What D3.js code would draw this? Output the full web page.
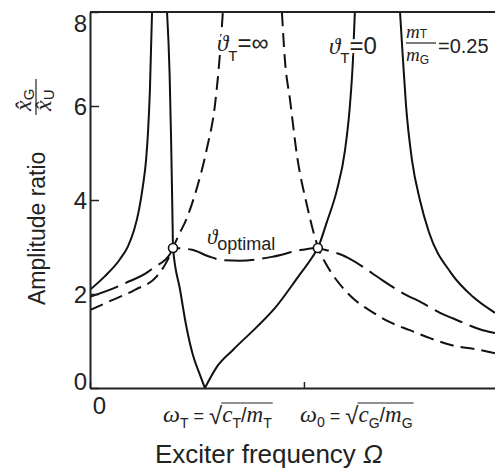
<!DOCTYPE html>
<html>
<head>
<meta charset="utf-8">
<script src="https://cdn.jsdelivr.net/npm/d3@7"></script>
<style>
  body { margin: 0; background: #fff; }
  svg { display: block; }
  text { font-family: "Liberation Sans", Arial, sans-serif; fill: #222; white-space: pre; }
  .it { font-family: "Liberation Serif", "Times New Roman", serif; font-style: italic; }
  .its { font-style: italic; }
  .halo { stroke: #fff; stroke-width: 6px; paint-order: stroke; stroke-linejoin: round; }
</style>
</head>
<body>
<svg id="chart" width="495" height="473"></svg>
<script>
// frequency is given in units of omega_0, amplitude ratio as plotted
var freqMax = 1.893;
var ampTicks = [0, 2, 4, 6, 8];
var freqTicks = [0, 1.0];
var omegaT = 0.537;
var omega0 = 1.0;

// theta_T = 0 (undamped absorber), four branches
var undampedLow = [[0, 2.09], [0.070, 2.38], [0.140, 2.74], [0.178, 3.02], [0.206, 3.36],
  [0.229, 3.79], [0.248, 4.32], [0.262, 4.85], [0.271, 5.43], [0.280, 6.34], [0.290, 8.0]];
var undampedMid = [[0.360, 8.0], [0.372, 6.7], [0.379, 5.3], [0.383, 4.3], [0.386, 3.5],
  [0.388, 2.98], [0.421, 2.09], [0.449, 1.34], [0.481, 0.70], [0.514, 0.28], [omegaT, 0]];
var undampedUp = [[omegaT, 0], [0.593, 0.45], [0.668, 0.81], [0.780, 1.30], [0.864, 1.70],
  [0.972, 2.36], [1.037, 2.77], [1.065, 2.98], [1.107, 3.53], [1.154, 4.21], [1.192, 5.06],
  [1.215, 6.02], [1.229, 6.98], [1.238, 8.0]];
var undampedHigh = [[1.449, 8.0], [1.463, 6.98], [1.477, 6.02], [1.505, 4.85], [1.542, 4.0],
  [1.584, 3.32], [1.687, 2.45], [1.790, 1.94], [1.893, 1.60]];

// theta_T = infinity (absorber locked to the main mass)
var lockedLow = [[0, 1.66], [0.084, 1.83], [0.210, 2.09], [0.313, 2.38], [0.360, 2.70],
  [0.388, 2.98], [0.407, 3.18], [0.453, 3.62], [0.500, 4.26], [0.547, 5.11], [0.584, 6.02],
  [0.607, 7.09], [0.621, 8.0]];
var lockedHigh = [[0.897, 8.0], [0.911, 6.98], [0.935, 6.13], [0.967, 4.96], [1.014, 3.89],
  [1.051, 3.21], [1.070, 2.94], [1.098, 2.68], [1.136, 2.40], [1.178, 2.15], [1.229, 1.91],
  [1.318, 1.62], [1.402, 1.40], [1.495, 1.23], [1.589, 1.06], [1.692, 0.91], [1.822, 0.81],
  [1.893, 0.74]];

// optimal damping
var optimal = [[0, 1.94], [0.126, 2.15], [0.164, 2.23], [0.271, 2.47], [0.294, 2.55],
  [0.374, 2.85], [0.388, 2.98], [0.477, 2.94], [0.550, 2.81], [0.621, 2.72], [0.700, 2.71],
  [0.850, 2.79], [0.991, 2.94], [1.065, 2.98], [1.098, 2.94], [1.178, 2.83], [1.206, 2.77],
  [1.332, 2.40], [1.364, 2.30], [1.495, 1.94], [1.528, 1.87], [1.659, 1.55], [1.692, 1.49],
  [1.836, 1.23], [1.893, 1.17]];

// the two points every curve passes through
var fixedPoints = [[0.388, 2.98], [1.065, 2.98]];

var chart = {
  margin: { top: 12, right: 0, bottom: 85, left: 90 },

  selector: '#chart',

  init: function() {
    var self = this;
    self.svg = d3.select(self.selector);
    self.width = 495 - self.margin.left - self.margin.right;
    self.height = 473 - self.margin.top - self.margin.bottom;

    self.x = d3.scaleLinear().domain([0, freqMax]).range([0, self.width]);
    self.y = d3.scaleLinear().domain([0, 8]).range([self.height, 0]);

    self.g = self.svg.append('g')
      .attr('transform', 'translate(' + self.margin.left + ',' + self.margin.top + ')');

    self.drawCurves();
    self.drawAxes();
    self.drawLabels();
  },

  drawCurves: function() {
    var self = this;
    self.svg.append('defs').append('clipPath').attr('id', 'plot-clip')
      .append('rect').attr('width', self.width).attr('height', self.height);

    var line = d3.line()
      .x(function(d) { return self.x(d[0]); })
      .y(function(d) { return self.y(d[1]); })
      .curve(d3.curveMonotoneX);

    var series = [
      { pts: undampedLow, dash: null },
      { pts: undampedMid, dash: null },
      { pts: undampedUp, dash: null },
      { pts: undampedHigh, dash: null },
      { pts: lockedLow, dash: '14,7' },
      { pts: lockedHigh, dash: '14,7' },
      { pts: optimal, dash: '30,8' }
    ];

    var curves = self.g.append('g').attr('clip-path', 'url(#plot-clip)');
    curves.selectAll('path')
      .data(series)
      .enter().append('path')
      .attr('d', function(d) { return line(d.pts); })
      .attr('fill', 'none')
      .attr('stroke', '#111')
      .attr('stroke-width', 2)
      .attr('stroke-dasharray', function(d) { return d.dash; });

    self.g.selectAll('.fixed')
      .data(fixedPoints)
      .enter().append('circle')
      .attr('class', 'fixed')
      .attr('cx', function(d) { return self.x(d[0]); })
      .attr('cy', function(d) { return self.y(d[1]); })
      .attr('r', 4.5)
      .attr('fill', '#fff')
      .attr('stroke', '#111')
      .attr('stroke-width', 1.6);
  },

  drawAxes: function() {
    var self = this;

    var yAxis = self.g.append('g')
      .call(d3.axisLeft(self.y).tickValues(ampTicks).tickSize(-9).tickSizeOuter(0).tickPadding(3));
    yAxis.selectAll('text')
      .style('font-size', '24px')
      .attr('dy', function(d) { return d === 8 ? '0.8em' : (d === 0 ? '0.05em' : '0.35em'); });

    var xAxis = self.g.append('g')
      .attr('transform', 'translate(0,' + self.height + ')')
      .call(d3.axisBottom(self.x).tickValues(freqTicks).tickSize(-6).tickSizeOuter(0)
        .tickFormat(function(d) { return d === 0 ? '0' : ''; }));
    xAxis.selectAll('text')
      .style('font-size', '24px')
      .attr('dx', 9)
      .attr('y', 9);

    self.g.selectAll('.domain').attr('stroke', '#222').attr('stroke-width', 2);
    self.g.selectAll('.tick line').attr('stroke', '#222').attr('stroke-width', 1.5);

    // top frame line
    self.g.append('line')
      .attr('x1', 0).attr('x2', self.width)
      .attr('stroke', '#222').attr('stroke-width', 2);
  },

  rich: function(sel, x, y, parts) {
    var t = sel.append('text').attr('x', x).attr('y', y);
    var cur = 0;
    parts.forEach(function(p) {
      var off = p.off || 0;
      t.append('tspan')
        .attr('class', p.cls || null)
        .attr('dy', off - cur)
        .style('font-size', p.size + 'px')
        .text(p.t);
      cur = off;
    });
    return t;
  },

  rootLabel: function(x0, base, head, radicand) {
    var self = this;
    var a = self.rich(self.svg, x0, base, head);
    var w1 = a.node().getComputedTextLength();
    var r = self.svg.append('text').attr('x', x0 + w1).attr('y', base + 2)
      .style('font-size', '24px').text('\u221A');
    var w2 = r.node().getComputedTextLength();
    var b = self.rich(self.svg, x0 + w1 + w2, base, radicand);
    var w3 = b.node().getComputedTextLength();
    self.svg.append('line')
      .attr('x1', x0 + w1 + w2 - 1).attr('x2', x0 + w1 + w2 + w3 + 1)
      .attr('y1', base - 19).attr('y2', base - 19)
      .attr('stroke', '#222').attr('stroke-width', 1.2);
  },

  drawLabels: function() {
    var self = this;
    var svg = self.svg;

    // y title, rotated
    var yt = svg.append('g').attr('transform', 'translate(45,305) rotate(-90)');
    yt.append('text').style('font-size', '23px').text('Amplitude ratio');
    var fr = svg.append('g').attr('transform', 'translate(36,97) rotate(-90)');
    fr.append('line').attr('x1', -18).attr('x2', 18).attr('stroke', '#222').attr('stroke-width', 1.2);
    self.rich(fr, -14, -5, [{ t: 'x\u0302', cls: 'it', size: 24 }, { t: 'G', size: 15, off: 3 }]);
    self.rich(fr, -14, 15, [{ t: 'x\u0302', cls: 'it', size: 24 }, { t: 'U', size: 15, off: 3 }]);

    // x title
    self.rich(svg, 155, 463, [{ t: 'Exciter frequency ', size: 26 }, { t: '\u03A9', cls: 'its', size: 26 }]);

    // natural frequency labels under the axis
    self.rootLabel(163, 422,
      [{ t: '\u03C9', cls: 'it', size: 24 }, { t: 'T', size: 14, off: 6 }, { t: ' = ', size: 18 }],
      [{ t: 'c', cls: 'it', size: 23 }, { t: 'T', size: 14, off: 6 }, { t: '/', size: 20 },
       { t: 'm', cls: 'it', size: 23 }, { t: 'T', size: 14, off: 6 }]);
    self.rootLabel(300, 422,
      [{ t: '\u03C9', cls: 'it', size: 24 }, { t: '0', size: 14, off: 5 }, { t: ' = ', size: 18 }],
      [{ t: 'c', cls: 'it', size: 23 }, { t: 'G', size: 14, off: 6 }, { t: '/', size: 20 },
       { t: 'm', cls: 'it', size: 23 }, { t: 'G', size: 14, off: 6 }]);

    // curve labels
    self.rich(svg, 217, 51, [{ t: '\u03D1', cls: 'it', size: 23 }, { t: 'T', size: 15, off: 10 },
      { t: '=\u221E', size: 24 }]).attr('class', 'halo');
    self.rich(svg, 329, 54, [{ t: '\u03D1', cls: 'it', size: 23 }, { t: 'T', size: 15, off: 9 },
      { t: '=0', size: 24 }]).attr('class', 'halo');
    self.rich(svg, 207, 244, [{ t: '\u03D1', cls: 'it', size: 21 }, { t: 'optimal', size: 18, off: 6 }]);

    // mass ratio
    self.rich(svg, 406, 38, [{ t: 'm', cls: 'it', size: 19 }, { t: 'T', size: 12, off: 0 }]);
    svg.append('line').attr('x1', 406).attr('x2', 436).attr('y1', 43).attr('y2', 43)
      .attr('stroke', '#222').attr('stroke-width', 1.2);
    self.rich(svg, 406, 61, [{ t: 'm', cls: 'it', size: 19 }, { t: 'G', size: 12, off: 3 }]);
    svg.append('text').attr('x', 438).attr('y', 53).style('font-size', '20px').text('=0.25');
  }
};

chart.init();
</script>
</body>
</html>
